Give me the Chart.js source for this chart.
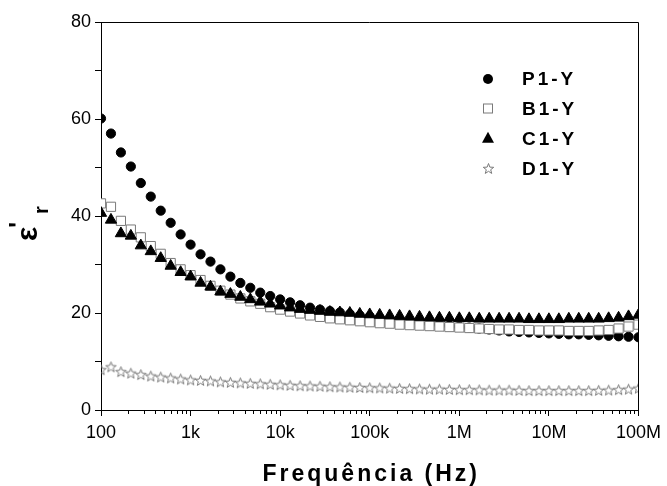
<!DOCTYPE html>
<html><head><meta charset="utf-8">
<script src="https://cdn.jsdelivr.net/npm/chart.js@4.4.1/dist/chart.umd.min.js"></script>
<style>html,body{margin:0;padding:0;background:#fff}#c{display:block}</style>
</head><body>
<canvas id="c" width="667" height="486"></canvas>
<script>
const frequencies = [100,129.2,166.8,215.4,278.3,359.4,464.2,599.5,774.3,
1000,1292,1668,2154,2783,3594,4642,5995,7743,
10000,12915,16681,21544,27826,35938,46416,59948,77426,
100000,129155,166810,215443,278256,359381,464159,599484,774264,
1000000,1291550,1668101,2154435,2782559,3593814,4641589,5994843,7742637,
10000000,12915497,16681005,21544347,27825594,35938137,46415888,59948425,77426368,
100000000];
const p1Values = [60.1,57.0,53.1,50.2,46.8,44.0,41.1,38.6,36.2,34.1,32.1,30.6,29.0,27.5,26.2,25.2,24.2,23.5,
22.8,22.2,21.6,21.1,20.7,20.4,20.1,19.8,19.5,19.3,
19.0,18.7,18.5,18.3,18.0,17.8,17.6,17.4,17.2,17.0,16.8,16.6,16.4,16.2,16.1,16.0,15.9,15.8,15.7,15.6,15.6,15.5,15.4,15.3,15.2,15.1,15.0];
const b1Values = [42.6,41.9,39.0,37.2,35.6,33.8,32.2,30.3,29.0,27.8,26.8,25.6,24.6,23.8,23.0,22.4,21.9,
21.2,20.7,20.3,19.9,19.5,19.2,18.9,18.7,18.5,18.3,18.1,17.9,17.8,17.6,17.5,17.4,17.3,17.2,17.1,17.0,16.9,16.8,16.7,16.6,16.6,16.5,16.5,16.4,16.4,16.4,16.3,16.3,16.3,16.4,16.5,16.8,17.2,17.6];
const c1Values = [40.6,39.2,36.4,35.9,33.9,32.7,31.3,29.7,28.4,27.5,26.2,25.4,24.4,23.9,23.3,22.8,22.3,21.9,
21.5,21.1,20.8,20.6,20.4,20.2,20.1,20.0,19.8,19.7,19.6,19.5,19.4,19.3,19.2,19.1,19.0,19.0,18.9,18.9,18.8,
18.8,18.8,18.8,18.8,18.7,18.7,18.7,18.7,18.8,18.8,18.8,18.8,
18.9,19.0,19.3,19.6];
const d1Values = [8.3,8.9,7.9,7.6,7.3,7.0,6.8,6.6,6.4,6.2,
6.1,6.0,5.8,5.7,5.6,5.5,5.4,5.3,5.2,5.1,5.0,4.95,4.9,4.8,4.75,4.7,4.65,4.6,
4.55,4.5,4.45,4.4,4.35,4.3,4.3,4.25,4.2,4.2,4.15,4.1,4.1,4.1,4.05,4.0,4.0,4.0,4.0,4.0,4.0,4.0,4.05,4.1,4.2,4.3,4.5];
const seriesLabels = ['P1-Y','B1-Y','C1-Y','D1-Y'];
const xMajorTicks = [100,1000,10000,100000,1000000,10000000,100000000];
const xTickLabels = ['100','1k','10k','100k','1M','10M','100M'];
const yTickValues = [0,10,20,30,40,50,60,70,80];
const yTickLabels = ['0','','20','','40','','60','','80'];
const xTitle = 'Frequência (Hz)';
const yTitleMain = 'ε', yTitleSup = "'", yTitleSub = 'r';

const FONT = '"Liberation Sans", Arial, sans-serif';
Chart.defaults.font.family = FONT;
Chart.defaults.color = '#000';

// all x ticks: decades plus 2..9 minors
const xAllTicks = [];
xMajorTicks.forEach((m, i) => {
  xAllTicks.push(m);
  if (i < xMajorTicks.length - 1) for (let d = 2; d <= 9; d++) xAllTicks.push(m * d);
});

function makeStar(size, color) {
  const c = document.createElement('canvas');
  c.width = size; c.height = size;
  const g = c.getContext('2d');
  const cx = size / 2, cy = size / 2 + 0.5, R = size / 2 - 1, r = R * 0.42;
  g.beginPath();
  for (let i = 0; i < 10; i++) {
    const a = -Math.PI / 2 + i * Math.PI / 5;
    const rr = i % 2 ? r : R;
    g.lineTo(cx + rr * Math.cos(a), cy + rr * Math.sin(a));
  }
  g.closePath();
  g.strokeStyle = color; g.lineWidth = 1; g.stroke();
  return c;
}
const starImg = makeStar(13, '#7a7a7a');

const toXY = vals => frequencies.map((f, i) => ({x: f, y: vals[i]}));

const styles = [
  {pointStyle: 'circle', pointRadius: 4.6, backgroundColor: '#000', borderColor: '#000', borderWidth: 1, order: 3},
  {pointStyle: 'rect', pointRadius: 6.5, backgroundColor: '#fff', borderColor: '#7a7a7a', borderWidth: 1, order: 2},
  {pointStyle: 'triangle', pointRadius: 6.5, backgroundColor: '#000', borderColor: '#000', borderWidth: 1, order: 1},
  {pointStyle: starImg, pointRadius: 6, backgroundColor: 'rgba(0,0,0,0)', borderColor: '#7a7a7a', borderWidth: 1, order: 0}
];
const allValues = [p1Values, b1Values, c1Values, d1Values];

const datasets = allValues.map((v, i) => Object.assign({
  label: seriesLabels[i], data: toXY(v), showLine: false, clip: 0
}, styles[i]));

function drawMarker(ctx, style, x, y) {
  ctx.save();
  if (style === 'circle') {
    ctx.beginPath(); ctx.arc(x, y, 5, 0, Math.PI * 2); ctx.fillStyle = '#000'; ctx.fill();
  } else if (style === 'rect') {
    ctx.fillStyle = '#fff'; ctx.strokeStyle = '#7a7a7a'; ctx.lineWidth = 1;
    ctx.fillRect(x - 4.5, y - 4.5, 9, 9); ctx.strokeRect(x - 4.5, y - 4.5, 9, 9);
  } else if (style === 'triangle') {
    ctx.beginPath(); ctx.moveTo(x, y - 6.5); ctx.lineTo(x + 6, y + 4.5); ctx.lineTo(x - 6, y + 4.5); ctx.closePath();
    ctx.fillStyle = '#000'; ctx.fill();
  } else {
    ctx.drawImage(style, Math.round(x - style.width / 2), Math.round(y - style.height / 2));
  }
  ctx.restore();
}

const decor = {
  id: 'decor',
  afterDraw(chart) {
    const {ctx, chartArea: a, scales: {x}} = chart;
    ctx.save();
    // frame top & right
    ctx.strokeStyle = '#000'; ctx.lineWidth = 1;
    ctx.beginPath();
    ctx.moveTo(a.left, Math.round(a.top) + 0.5);
    ctx.lineTo(Math.round(a.right) + 0.5, Math.round(a.top) + 0.5);
    ctx.lineTo(Math.round(a.right) + 0.5, a.bottom);
    ctx.stroke();
    // minor x ticks (shorter)
    ctx.beginPath();
    xAllTicks.forEach(v => {
      if (xMajorTicks.includes(v)) return;
      const px = Math.round(x.getPixelForValue(v)) + 0.5;
      ctx.moveTo(px, a.bottom); ctx.lineTo(px, a.bottom + 4);
    });
    ctx.stroke();
    // x title
    ctx.fillStyle = '#000';
    ctx.font = 'bold 23px ' + FONT;
    ctx.letterSpacing = '3px';
    ctx.textAlign = 'center'; ctx.textBaseline = 'alphabetic';
    ctx.fillText(xTitle, (a.left + a.right) / 2 + 1.5, 481);
    // y title (rotated)
    ctx.letterSpacing = '0px';
    ctx.save();
    ctx.translate(37, 241);
    ctx.rotate(-Math.PI / 2);
    ctx.textAlign = 'left';
    ctx.font = 'bold 30px ' + FONT;
    ctx.fillText(yTitleMain, 0, 0);
    ctx.font = 'bold 26px ' + FONT;
    ctx.fillText(yTitleSup, 13, -10);
    ctx.font = 'bold 20px ' + FONT;
    ctx.fillText(yTitleSub, 27, 11);
    ctx.restore();
    // legend
    const rows = [79, 108.5, 138.3, 168.3];
    ctx.font = 'bold 19px ' + FONT;
    ctx.letterSpacing = '3px';
    ctx.textAlign = 'left'; ctx.textBaseline = 'middle';
    chart.data.datasets.forEach((ds, i) => {
      drawMarker(ctx, ds.pointStyle, 488, rows[i]);
      ctx.fillStyle = '#000';
      ctx.fillText(ds.label, 522, rows[i] + 1);
    });
    ctx.restore();
  }
};

new Chart(document.getElementById('c'), {
  type: 'scatter',
  data: {datasets},
  options: {
    responsive: false, animation: false, devicePixelRatio: 1,
    layout: {padding: {top: 22, right: 28, left: 0, bottom: 0}},
    plugins: {legend: {display: false}, tooltip: {enabled: false}},
    scales: {
      x: {
        type: 'logarithmic', min: 100, max: 100000000,
        afterBuildTicks: s => { s.ticks = xAllTicks.map(v => ({value: v})); },
        afterFit: s => { s.height = 76; },
        ticks: {
          autoSkip: false, maxRotation: 0, padding: 6,
          font: {size: 18}, color: '#000',
          callback: v => { const k = xMajorTicks.indexOf(v); return k >= 0 ? xTickLabels[k] : ''; }
        },
        grid: {drawOnChartArea: false, tickLength: 6, color: c => (c.tick && xMajorTicks.includes(c.tick.value)) ? '#000' : 'rgba(0,0,0,0)'},
        border: {color: '#000', width: 1}
      },
      y: {
        min: 0, max: 80,
        afterBuildTicks: s => { s.ticks = yTickValues.map(v => ({value: v})); },
        afterFit: s => { s.width = 101; },
        ticks: {
          autoSkip: false, padding: 4, font: {size: 18}, color: '#000',
          callback: v => { const k = yTickValues.indexOf(v); return k >= 0 ? yTickLabels[k] : ''; }
        },
        grid: {drawOnChartArea: false, tickLength: 6, color: '#000'},
        border: {color: '#000', width: 1}
      }
    }
  },
  plugins: [decor]
});
</script>
</body></html>
